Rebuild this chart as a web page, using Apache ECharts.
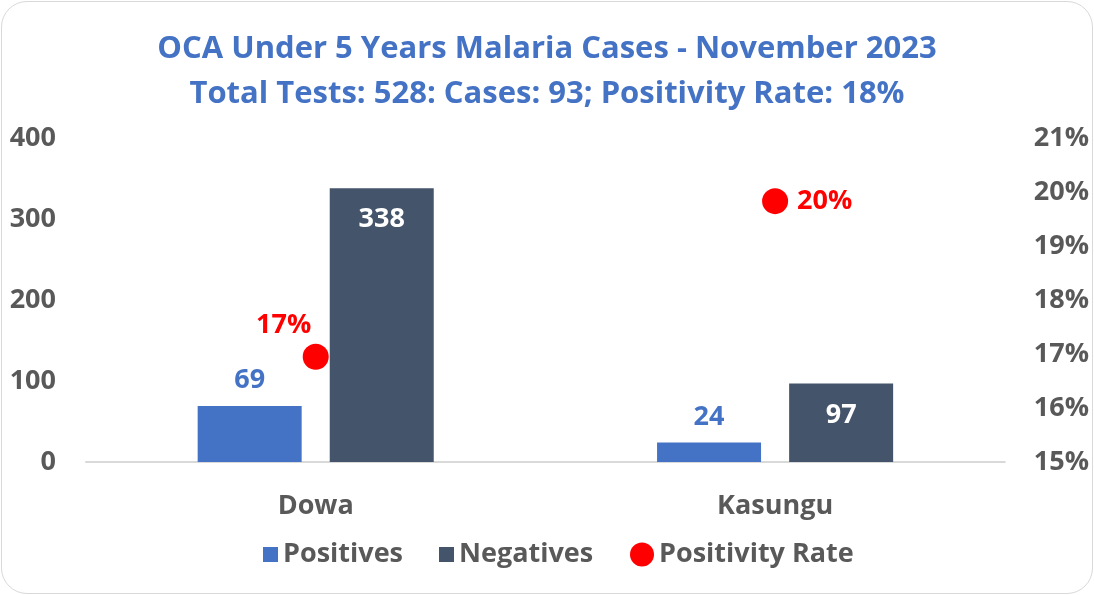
<!DOCTYPE html>
<html>
<head>
<meta charset="utf-8">
<script src="https://cdn.jsdelivr.net/npm/echarts@6/dist/echarts.min.js"></script>
<style>
  html, body { margin: 0; padding: 0; background: #fff; }
  #box {
    position: absolute; left: 1px; top: 1px; width: 1090px; height: 591px;
    border: 1px solid #d9d9d9; border-radius: 26px; overflow: hidden; background: #fff;
  }
  #chart { width: 1090px; height: 591px; }
</style>
</head>
<body>
<div id="box"><div id="chart"></div></div>
<script>
var districts = ['Dowa', 'Kasungu'];
var positives = [69, 24];
var negatives = [338, 97];
var positivityRate = [16.95, 19.83]; // percent
var leftTicks = [0, 100, 200, 300, 400];
var rightTicks = [15, 16, 17, 18, 19, 20, 21];

var font = 'Open Sans';
var grey = '#595959';
var fs = 27;

var chart = echarts.init(document.getElementById('chart'));
chart.setOption({
    animation: false,
    textStyle: { fontFamily: font, fontWeight: 'bold' },
    title: {
        text: 'OCA Under 5 Years Malaria Cases - November 2023\nTotal Tests: 528: Cases: 93; Positivity Rate: 18%',
        left: 'center',
        top: 20,
        textStyle: {
            color: '#4472C4',
            fontSize: 31,
            fontWeight: 'bold',
            fontFamily: font,
            lineHeight: 45
        }
    },
    legend: [
        {
            left: 256,
            bottom: 20,
            itemGap: 36,
            itemWidth: 15,
            itemHeight: 15,
            itemTextGap: 9,
            textStyle: { color: grey, fontSize: fs, fontWeight: 'bold', fontFamily: font },
            data: [
                { name: 'Positives', icon: 'rect' },
                { name: 'Negatives', icon: 'rect' }
            ]
        },
        {
            left: 623,
            bottom: 20,
            itemWidth: 24,
            itemHeight: 24,
            itemTextGap: 5,
            textStyle: { color: grey, fontSize: fs, fontWeight: 'bold', fontFamily: font },
            data: [
                { name: 'Positivity Rate', icon: 'circle' }
            ]
        }
    ],
    grid: { left: 84, right: 84, top: 136, bottom: 131 },
    xAxis: {
        type: 'category',
        data: districts,
        axisLine: { lineStyle: { color: '#d9d9d9', width: 2 } },
        axisTick: { show: false },
        axisLabel: { color: grey, fontSize: fs, fontWeight: 'bold', margin: 31 }
    },
    yAxis: [
        {
            type: 'value',
            min: 0, max: 400, interval: 100,
            splitLine: { show: false },
            axisLine: { show: false },
            axisLabel: { color: grey, fontSize: fs, fontWeight: 'bold', margin: 30 }
        },
        {
            type: 'value',
            min: 15, max: 21, interval: 1,
            splitLine: { show: false },
            axisLine: { show: false },
            axisLabel: {
                color: grey, fontSize: fs, fontWeight: 'bold', margin: 29,
                formatter: '{value}%'
            }
        }
    ],
    series: [
        {
            name: 'Positives',
            type: 'bar',
            data: positives,
            barWidth: 104,
            barGap: '27%',
            itemStyle: { color: '#4472C4' },
            label: {
                show: true, position: 'top', distance: 12,
                color: '#4472C4', fontSize: fs, fontWeight: 'bold'
            }
        },
        {
            name: 'Negatives',
            type: 'bar',
            data: negatives,
            barWidth: 104,
            itemStyle: { color: '#44546A' },
            label: {
                show: true, position: 'insideTop', distance: 18,
                color: '#fff', fontSize: fs, fontWeight: 'bold'
            }
        },
        {
            name: 'Positivity Rate',
            type: 'scatter',
            yAxisIndex: 1,
            symbolSize: 26,
            itemStyle: { color: '#ff0000', opacity: 1 },
            data: [
                {
                    value: positivityRate[0],
                    label: { position: 'top', offset: [-32, 0] }
                },
                {
                    value: positivityRate[1],
                    label: { position: 'right', offset: [4, 0] }
                }
            ],
            label: {
                show: true,
                color: '#ff0000', fontSize: fs, fontWeight: 'bold',
                formatter: function (p) { return Math.round(p.value) + '%'; }
            }
        }
    ]
});
</script>
</body>
</html>
